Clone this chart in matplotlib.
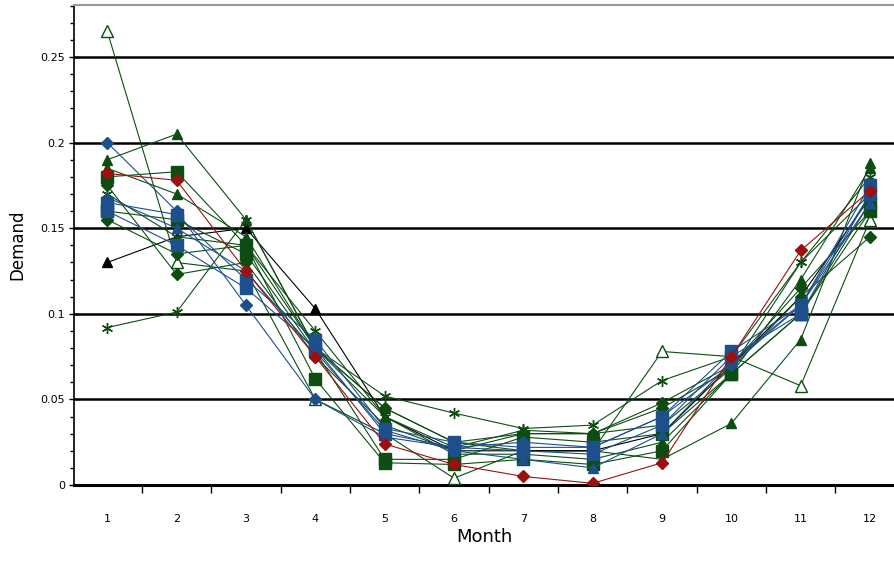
import matplotlib
matplotlib.use("Agg")
import matplotlib.pyplot as plt
from matplotlib.ticker import MultipleLocator, FixedLocator, NullFormatter

months = list(range(1, 13))

green = "#0d4d12"
blue = "#1d4f8c"
red = "#9c1010"
black = "#000000"

# month 1..12
s_open_tri = [0.265, 0.130, 0.125, 0.050, 0.030, 0.004, 0.020, 0.020, 0.078, 0.075, 0.058, 0.155]
s_tri_g1 = [0.190, 0.205, 0.155, 0.080, 0.045, 0.025, 0.020, 0.020, 0.015, 0.036, 0.085, 0.188]
s_tri_k = [0.130, 0.145, 0.150, 0.103, 0.040, 0.020, 0.020, 0.020, 0.030, 0.070, 0.110, 0.168]
s_star_g = [0.092, 0.101, 0.155, 0.080, 0.052, 0.042, 0.033, 0.035, 0.061, 0.075, 0.130, 0.170]
s_dia_r = [0.182, 0.178, 0.125, 0.075, 0.024, 0.012, 0.005, 0.001, 0.013, 0.075, 0.137, 0.172]
s_dia_b = [0.200, 0.160, 0.105, 0.050, 0.028, 0.022, 0.025, 0.022, 0.040, 0.070, 0.105, 0.170]
s_sq_b1 = [0.165, 0.158, 0.120, 0.085, 0.033, 0.025, 0.022, 0.022, 0.040, 0.078, 0.105, 0.175]
s_sq_g1 = [0.180, 0.183, 0.140, 0.062, 0.013, 0.012, 0.015, 0.012, 0.020, 0.065, 0.100, 0.160]
s_dia_g1 = [0.175, 0.123, 0.130, 0.075, 0.035, 0.020, 0.030, 0.030, 0.045, 0.068, 0.110, 0.145]
s_dia_g2 = [0.155, 0.135, 0.140, 0.080, 0.045, 0.025, 0.030, 0.030, 0.048, 0.070, 0.115, 0.160]
s_sq_b2 = [0.160, 0.140, 0.115, 0.080, 0.030, 0.022, 0.020, 0.018, 0.035, 0.075, 0.100, 0.170]
s_tri_g2 = [0.185, 0.170, 0.145, 0.080, 0.040, 0.018, 0.018, 0.015, 0.025, 0.065, 0.120, 0.185]
s_sq_g2 = [0.160, 0.155, 0.135, 0.078, 0.015, 0.015, 0.028, 0.025, 0.030, 0.065, 0.100, 0.165]
s_star_g2 = [0.170, 0.145, 0.140, 0.090, 0.040, 0.022, 0.032, 0.030, 0.035, 0.068, 0.130, 0.180]
s_tri_b = [0.168, 0.150, 0.125, 0.078, 0.032, 0.020, 0.015, 0.010, 0.030, 0.072, 0.105, 0.165]

series = [
    (s_open_tri, green, "^", False),
    (s_tri_g1, green, "^", True),
    (s_tri_k, black, "^", True),
    (s_star_g, green, "*", False),
    (s_dia_g1, green, "D", True),
    (s_dia_g2, green, "D", True),
    (s_sq_g2, green, "s", True),
    (s_tri_g2, green, "^", True),
    (s_star_g2, green, "*", False),
    (s_sq_g1, green, "s", True),
    (s_tri_b, blue, "^", True),
    (s_sq_b2, blue, "s", True),
    (s_dia_b, blue, "D", True),
    (s_sq_b1, blue, "s", True),
    (s_dia_r, red, "D", True),
]

fig = plt.figure(figsize=(8.95, 5.63), dpi=100)
ax = fig.add_axes([0.0827, 0.1385, 0.9173, 0.8526])

for yv in [0.05, 0.1, 0.15, 0.2, 0.25]:
    ax.axhline(yv, color="black", lw=1.8, zorder=1)

for vals, col, mk, filled in series:
    if mk == "*":
        ax.plot(months, vals, color=col, lw=0.8, marker=(6, 2, 0), ms=8,
                mew=1.0, zorder=3)
    elif filled:
        ms = 8 if mk == "s" else 6.5
        ax.plot(months, vals, color=col, lw=0.8, marker=mk, ms=ms,
                mfc=col, mec=col, zorder=3)
    else:
        ax.plot(months, vals, color=col, lw=0.8, marker=mk, ms=8,
                mfc="white", mec=col, mew=1.0, zorder=3)

ax.set_xlim(0.52, 12.36)
ax.set_ylim(0, 0.2804)

ax.xaxis.set_major_locator(FixedLocator([m + 0.5 for m in range(0, 13)]))
ax.xaxis.set_major_formatter(NullFormatter())
ax.xaxis.set_minor_locator(FixedLocator(months))
ax.set_xticklabels([str(m) for m in months], minor=True, fontsize=8)
ax.tick_params(axis="x", which="major", direction="out", length=6, width=1)
ax.tick_params(axis="x", which="minor", length=0, pad=21)

ax.yaxis.set_minor_locator(MultipleLocator(0.01))
ax.set_yticks([0, 0.05, 0.1, 0.15, 0.2, 0.25])
ax.set_yticklabels(["0", "0.05", "0.1", "0.15", "0.2", "0.25"], fontsize=8)
ax.tick_params(axis="y", which="major", direction="inout", length=7, width=1, pad=3)
ax.tick_params(axis="y", which="minor", direction="out", length=3, width=1)

ax.spines["bottom"].set_linewidth(2.2)
ax.spines["left"].set_linewidth(1.2)
ax.spines["top"].set_color("#999999")
ax.spines["top"].set_linewidth(1.5)
ax.spines["right"].set_visible(False)

ax.set_xlabel("Month", fontsize=13, labelpad=3)
ax.set_ylabel("Demand", fontsize=12, labelpad=10)

fig.savefig("out.png", dpi=100)
